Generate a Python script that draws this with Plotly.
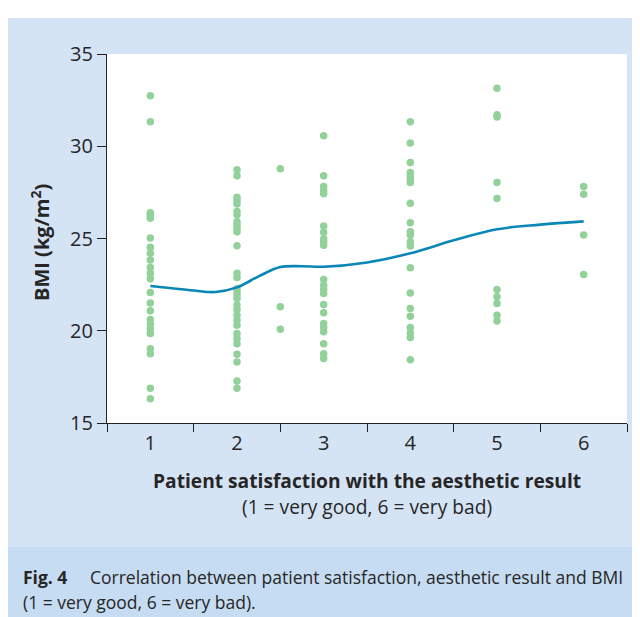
import plotly.graph_objects as go

# ---- data ----
sat_1 = [32.74, 31.33, 26.4, 26.25, 26.1, 25.03, 24.52, 24.2, 23.83, 23.43, 23.11, 22.82,
         22.07, 21.51, 21.08, 20.61, 20.35, 20.1, 19.85, 19.03, 18.76, 16.89, 16.32]
sat_2 = [28.72, 28.4, 27.24, 27.06, 26.87, 26.46, 26.28, 25.91, 25.73, 25.55, 25.37, 24.61,
         23.11, 22.89, 22.29, 22.11, 21.93, 21.75, 21.39, 21.15, 20.84, 20.57, 20.3,
         19.85, 19.58, 19.3, 18.72, 18.3, 17.27, 16.89]
sat_2_5 = [28.78, 21.3, 20.08]
sat_3 = [30.57, 28.4, 27.82, 27.6, 27.42, 25.68, 25.34, 24.99, 24.81, 24.63, 22.78, 22.47,
         22.24, 22.02, 21.42, 20.97, 20.39, 20.17, 19.94, 19.3, 18.76, 18.49]
sat_4 = [31.33, 30.17, 29.12, 28.58, 28.36, 28.18, 28.03, 26.91, 25.86, 25.37, 25.19, 24.83,
         24.59, 23.41, 22.05, 21.21, 20.79, 20.17, 19.88, 19.63, 18.43]
sat_5 = [33.14, 31.71, 31.58, 28.03, 27.17, 22.24, 21.84, 21.48, 20.84, 20.53]
sat_6 = [27.82, 27.4, 25.19, 23.05]

groups = {1: sat_1, 2: sat_2, 2.5: sat_2_5, 3: sat_3, 4: sat_4, 5: sat_5, 6: sat_6}

# smoothed trend curve
trend_x = [1, 1.25, 1.5, 1.75, 2, 2.25, 2.5, 2.75, 3, 3.5, 4, 4.5, 5, 5.5, 6]
trend_y = [22.43, 22.3, 22.18, 22.1, 22.35, 22.95, 23.45, 23.5, 23.47, 23.7, 24.2, 24.9,
           25.5, 25.75, 25.93]

x_tick_vals = [1, 2, 3, 4, 5, 6]
x_tick_text = ["1", "2", "3", "4", "5", "6"]
x_bounds = [0.5, 1.5, 2.5, 3.5, 4.5, 5.5, 6.5]
y_tick_vals = [15, 20, 25, 30, 35]

xs, ys = [], []
for k, vals in groups.items():
    xs += [k] * len(vals)
    ys += vals

FONT = "Open Sans"
TXT = "#262626"

fig = go.Figure()
fig.add_trace(go.Scatter(x=xs, y=ys, mode="markers",
                         marker=dict(color="#93d19b", size=7.5, line=dict(width=0)),
                         hoverinfo="skip", showlegend=False))
fig.add_trace(go.Scatter(x=trend_x, y=trend_y, mode="lines",
                         line=dict(color="#0a87b6", width=2.6, shape="spline", smoothing=1.0),
                         hoverinfo="skip", showlegend=False))

# the page body adds an 8px offset; all target positions below are in window pixels
OFF = 8
W, H = 632, 609
L, R, T, B = 107 - OFF, W - (627 - OFF), 54 - OFF, H - (423 - OFF)
pw, ph = W - L - R, H - T - B

def px(x):
    return (x - OFF - L) / pw

def py(y):
    return (H - B - (y - OFF)) / ph

shapes = [
    dict(type="rect", xref="paper", yref="paper", x0=px(8), x1=px(645), y0=py(547), y1=py(18),
         fillcolor="#d5e4f5", line=dict(width=0), layer="below"),
    dict(type="rect", xref="paper", yref="paper", x0=px(8), x1=px(645), y0=py(625), y1=py(547),
         fillcolor="#c6dcf2", line=dict(width=0), layer="below"),
    dict(type="rect", xref="paper", yref="paper", x0=0, x1=1, y0=0, y1=1,
         fillcolor="white", line=dict(width=0), layer="below"),
]

annotations = [
    dict(text="<b>BMI (kg/m<sup>2</sup>)</b>", xref="paper", yref="paper", x=px(40), y=py(243),
         textangle=-90, showarrow=False, font=dict(family=FONT, size=20, color=TXT),
         xanchor="center", yanchor="middle"),
    dict(text="<b>Patient satisfaction with the aesthetic result</b>", xref="paper", yref="paper",
         x=px(367), y=py(480), showarrow=False, font=dict(family=FONT, size=19.2, color=TXT),
         xanchor="center", yanchor="middle"),
    dict(text="(1 = very good, 6 = very bad)", xref="paper", yref="paper",
         x=px(367), y=py(506), showarrow=False, font=dict(family=FONT, size=19.2, color=TXT),
         xanchor="center", yanchor="middle"),
    dict(text="<b>Fig. 4</b>", xref="paper", yref="paper", x=px(21), y=py(577), showarrow=False,
         font=dict(family=FONT, size=17.5, color=TXT), xanchor="left", yanchor="middle"),
    dict(text="Correlation between patient satisfaction, aesthetic result and BMI",
         xref="paper", yref="paper", x=px(88), y=py(577), showarrow=False,
         font=dict(family=FONT, size=17.5, color=TXT), xanchor="left", yanchor="middle"),
    dict(text="(1 = very good, 6 = very bad).", xref="paper", yref="paper", x=px(21), y=py(602),
         showarrow=False, font=dict(family=FONT, size=17.5, color=TXT),
         xanchor="left", yanchor="middle"),
]

fig.update_layout(
    width=W, height=H,
    margin=dict(l=L, r=R, t=T, b=B, pad=0),
    paper_bgcolor="white", plot_bgcolor="rgba(0,0,0,0)",
    shapes=shapes, annotations=annotations,
    font=dict(family=FONT, color=TXT),
    xaxis=dict(range=[0.5, 6.5], tickmode="array", tickvals=x_tick_vals, ticktext=x_tick_text,
               ticks="", showgrid=False, zeroline=False, showline=True, linecolor="#222",
               linewidth=1.3, tickfont=dict(size=20, family=FONT, color=TXT), ticklabelstandoff=2,
               minor=dict(tickmode="array", tickvals=x_bounds, ticks="outside", ticklen=8,
                          tickcolor="#222", tickwidth=1.3, showgrid=False)),
    yaxis=dict(range=[15, 35], tickmode="array", tickvals=y_tick_vals, ticks="outside",
               ticklen=9, tickcolor="#222", tickwidth=1.3, showgrid=False, zeroline=False,
               showline=True, linecolor="#222", linewidth=1.3,
               tickfont=dict(size=20, family=FONT, color=TXT)),
)

fig.write_html("out.html")
